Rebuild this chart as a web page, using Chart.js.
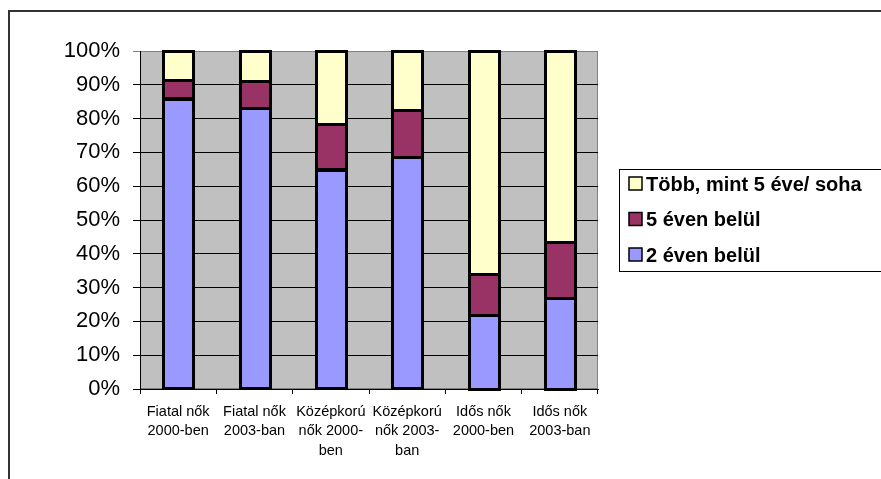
<!DOCTYPE html>
<html>
<head>
<meta charset="utf-8">
<script src="https://cdn.jsdelivr.net/npm/chart.js@4.4.0/dist/chart.umd.min.js"></script>
<style>
  body { margin: 0; background: #fff; }
  #wrap { width: 881px; height: 479px; position: relative; }
</style>
</head>
<body>
<div id="wrap"><canvas id="mammoChart"></canvas></div>
<script>
// categories (multi-line labels as in the original)
const categories = [
  ["Fiatal nők", "2000-ben"],
  ["Fiatal nők", "2003-ban"],
  ["Középkorú", "nők 2000-", "ben"],
  ["Középkorú", "nők 2003-", "ban"],
  ["Idős nők", "2000-ben"],
  ["Idős nők", "2003-ban"]
];
// share of women, percent
const ketEvenBelul = [86, 83, 65, 68.5, 22, 27];
const otEvenBelul = [5.5, 8, 13.5, 14, 12, 16.5];
const tobbMint5 = [8.5, 9, 21.5, 17.5, 66, 56.5];
const seriesNames = ["2 éven belül", "5 éven belül", "Több, mint 5 éve/ soha"];
const yTicks = [0, 10, 20, 30, 40, 50, 60, 70, 80, 90, 100];

const FONT = "'Liberation Sans', Arial, sans-serif";

const plotBg = {
  id: "plotBg",
  beforeDraw(chart) {
    const { ctx, chartArea: a } = chart;
    ctx.save();
    ctx.fillStyle = "#C0C0C0";
    ctx.fillRect(a.left, a.top, a.right - a.left, a.bottom - a.top);
    ctx.strokeStyle = "#808080";
    ctx.lineWidth = 1;
    ctx.strokeRect(a.left + 0.5, a.top + 0.5, a.right - a.left - 1, a.bottom - a.top - 1);
    ctx.restore();
  },
  afterDraw(chart) {
    const ctx = chart.ctx;
    ctx.save();
    // outer frame (only top and left visible in the original crop)
    ctx.strokeStyle = "#333";
    ctx.lineWidth = 2;
    ctx.beginPath();
    ctx.moveTo(881, 11);
    ctx.lineTo(9, 11);
    ctx.lineTo(9, 479);
    ctx.stroke();
    ctx.restore();
  }
};

// thick black outline around every bar segment
const barOutline = {
  id: "barOutline",
  afterDatasetsDraw(chart) {
    const ctx = chart.ctx;
    ctx.save();
    ctx.strokeStyle = "#000";
    ctx.lineWidth = 3;
    chart.data.datasets.forEach((ds, i) => {
      chart.getDatasetMeta(i).data.forEach(bar => {
        const { x, y, base, width } = bar.getProps(["x", "y", "base", "width"], true);
        const top = Math.min(y, base);
        ctx.strokeRect(Math.round(x - width / 2) + 0.5, Math.round(top) + 0.5,
          Math.round(width), Math.round(Math.abs(base - y)));
      });
    });
    ctx.restore();
  }
};

// legend box on the right, reversed order like Excel
const boxLegend = {
  id: "boxLegend",
  afterDraw(chart) {
    const ctx = chart.ctx;
    const sets = chart.data.datasets.slice().reverse();
    ctx.save();
    ctx.strokeStyle = "#000";
    ctx.lineWidth = 1;
    ctx.strokeRect(619.5, 169.5, 300, 102);
    ctx.font = "bold 20px " + FONT;
    ctx.textBaseline = "middle";
    ctx.fillStyle = "#000";
    sets.forEach((ds, i) => {
      const y = 184 + i * 35.5;
      ctx.fillStyle = ds.backgroundColor;
      ctx.fillRect(629, y - 7, 13, 13);
      ctx.strokeStyle = "#000";
      ctx.lineWidth = 1.5;
      ctx.strokeRect(629, y - 7, 13, 13);
      ctx.fillStyle = "#000";
      ctx.fillText(ds.label, 646, y + 1);
    });
    ctx.restore();
  }
};

const ctx = document.getElementById("mammoChart").getContext("2d");

function barSet(label, data, color) {
  return {
    label,
    data,
    backgroundColor: color,
    borderWidth: 0,
    inflateAmount: 0,
    barPercentage: 0.39,
    categoryPercentage: 1
  };
}

new Chart(ctx, {
  type: "bar",
  data: {
    labels: categories,
    datasets: [
      barSet(seriesNames[0], ketEvenBelul, "#9999FF"),
      barSet(seriesNames[1], otEvenBelul, "#993366"),
      barSet(seriesNames[2], tobbMint5, "#FFFFCC")
    ]
  },
  options: {
    responsive: true,
    maintainAspectRatio: false,
    animation: false,
    layout: { padding: { left: 0, top: 51, right: 283, bottom: 0 } },
    plugins: {
      legend: { display: false },
      tooltip: { enabled: false }
    },
    scales: {
      x: {
        stacked: true,
        offset: true,
        afterFit(scale) { scale.height = 90; },
        grid: {
          offset: true,
          drawOnChartArea: false,
          drawTicks: true,
          tickLength: 5,
          color: "#000"
        },
        border: { color: "#000", width: 1 },
        ticks: {
          color: "#000",
          font: { family: FONT, size: 14.5, lineHeight: 1.35 },
          padding: 8,
          maxRotation: 0,
          autoSkip: false
        }
      },
      y: {
        stacked: true,
        min: 0,
        max: 100,
        afterFit(scale) { scale.width = 140; },
        afterBuildTicks(scale) { scale.ticks = yTicks.map(v => ({ value: v })); },
        grid: {
          color: c => (c.tick && c.tick.value === 100 ? "#808080" : "#000"),
          lineWidth: 1,
          tickLength: 7,
          drawTicks: true
        },
        border: { color: "#000", width: 1 },
        ticks: {
          color: "#000",
          font: { family: FONT, size: 22 },
          padding: 13,
          callback: v => v + "%"
        }
      }
    }
  },
  plugins: [plotBg, barOutline, boxLegend]
});
</script>
</body>
</html>
